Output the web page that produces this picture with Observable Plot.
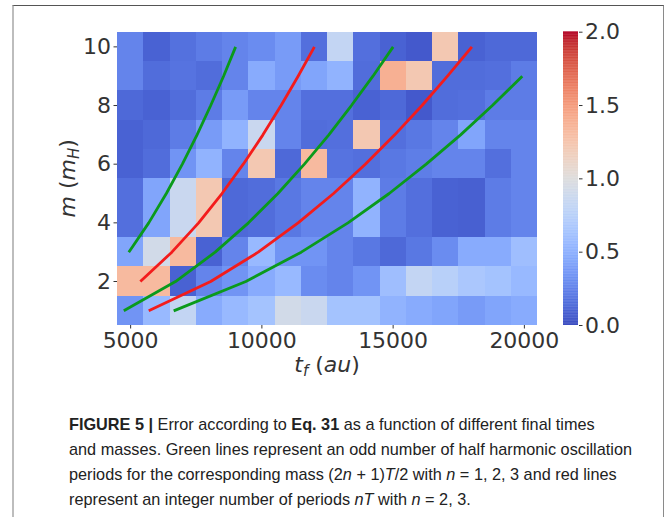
<!DOCTYPE html>
<html>
<head>
<meta charset="utf-8">
<script src="https://cdn.jsdelivr.net/npm/d3@7"></script>
<script src="https://cdn.jsdelivr.net/npm/@observablehq/plot@0.6"></script>
<style>
  html, body { margin: 0; padding: 0; background: #fff; overflow: hidden; }
  #page { position: relative; width: 665px; height: 517px; }
  #frame { position: absolute; left: 12px; top: 5px; width: 649px; height: 600px;
           border-left: 2px solid #bdbdbd; border-top: 1.5px solid #555; border-right: 1px solid #8a8a8a; }
  #chart { position: absolute; left: 0; top: 0; }
  #cbar { position: absolute; left: 540px; top: 0; }
  #caption { position: absolute; left: 69px; top: 412px; font-family: "Liberation Sans Narrow", "Liberation Sans", Arial, sans-serif;
             font-size: 17px; color: #222; }
  #caption .ln { white-space: nowrap; height: 25px; line-height: 25px; transform-origin: 0 0; }
</style>
</head>
<body>
<div id="page">
  <div id="frame"></div>
  <div id="chart"></div>
  <div id="cbar"></div>
  <div id="caption">
    <div class="ln"><b>FIGURE 5</b> <b>|</b> Error according to <b>Eq. 31</b> as a function of different final times</div>
    <div class="ln">and masses. Green lines represent an odd number of half harmonic oscillation</div>
    <div class="ln">periods for the corresponding mass (2<i>n</i> + 1)<i>T</i>/2 with <i>n</i> = 1, 2, 3 and red lines</div>
    <div class="ln">represent an integer number of periods <i>nT</i> with <i>n</i> = 2, 3.</div>
  </div>
</div>
<script>
// ---- data ----
const finalTimes = [5000, 6000, 7000, 8000, 9000, 10000, 11000, 12000, 13000, 14000, 15000, 16000, 17000, 18000, 19000, 20000];
const masses = [10, 9, 8, 7, 6, 5, 4, 3, 2, 1];
const err_m10 = [0.26, 0.10, 0.17, 0.22, 0.26, 0.30, 0.38, 0.16, 0.82, 0.16, 0.10, 0.06, 1.22, 0.10, 0.13, 0.13];
const err_m9  = [0.26, 0.15, 0.18, 0.15, 0.26, 0.47, 0.38, 0.43, 0.52, 0.15, 1.38, 1.22, 0.15, 0.15, 0.16, 0.22];
const err_m8  = [0.13, 0.10, 0.15, 0.22, 0.38, 0.26, 0.26, 0.16, 0.16, 0.10, 0.13, 0.06, 0.15, 0.16, 0.22, 0.22];
const err_m7  = [0.10, 0.13, 0.22, 0.38, 0.52, 0.86, 0.26, 0.15, 0.16, 1.22, 0.16, 0.20, 0.26, 0.43, 0.26, 0.26];
const err_m6  = [0.10, 0.15, 0.34, 0.52, 0.26, 1.22, 0.13, 1.32, 0.18, 0.16, 0.20, 0.23, 0.26, 0.26, 0.16, 0.26];
const err_m5  = [0.16, 0.43, 0.86, 1.22, 0.13, 0.15, 0.20, 0.26, 0.26, 0.52, 0.22, 0.16, 0.10, 0.09, 0.22, 0.26];
const err_m4  = [0.16, 0.43, 0.86, 1.22, 0.13, 0.15, 0.20, 0.26, 0.26, 0.52, 0.22, 0.16, 0.10, 0.09, 0.22, 0.26];
const err_m3  = [0.43, 0.92, 1.32, 0.10, 0.26, 0.56, 0.34, 0.34, 0.26, 0.20, 0.13, 0.20, 0.30, 0.47, 0.47, 0.60];
const err_m2  = [1.32, 1.32, 0.10, 0.26, 0.34, 0.47, 0.56, 0.30, 0.26, 0.34, 0.60, 0.82, 0.75, 0.67, 0.63, 0.56];
const err_m1  = [0.34, 0.56, 0.82, 0.47, 0.56, 0.63, 0.92, 0.86, 0.63, 0.63, 0.52, 0.47, 0.43, 0.38, 0.43, 0.47];
const errRows = [err_m10, err_m9, err_m8, err_m7, err_m6, err_m5, err_m4, err_m3, err_m2, err_m1];

// curves: green = (2n+1)T/2 for n=1,2,3 ; red = nT for n=2,3
const green1_m = [3, 4, 5, 6, 7, 8, 9, 10];
const green1_t = [4930, 5690, 6360, 6970, 7530, 8050, 8540, 9000];
const red1_m   = [2, 3, 4, 5, 6, 7, 8, 9, 10];
const red1_t   = [5370, 6570, 7590, 8480, 9290, 10040, 10730, 11380, 12000];
const green2_m = [1, 2, 3, 4, 5, 6, 7, 8, 9, 10];
const green2_t = [4740, 6710, 8220, 9490, 10610, 11620, 12550, 13410, 14230, 15000];
const red2_m   = [1, 2, 3, 4, 5, 6, 7, 8, 9, 10];
const red2_t   = [5690, 8050, 9860, 11380, 12730, 13940, 15060, 16100, 17070, 18000];
const green3_m = [1, 2, 3, 4, 5, 6, 7, 8, 9];
const green3_t = [6640, 9390, 11500, 13280, 14850, 16260, 17570, 18780, 19920];

const xTicks = [5000, 10000, 15000, 20000];
const yTicks = [2, 4, 6, 8, 10];
const cbarTicks = [0, 0.5, 1.0, 1.5, 2.0];

// matplotlib "coolwarm"
const coolwarmColors = ["#3b4cc0","#445acc","#4d68d7","#5775e1","#6282ea","#6c8ff1","#779af7","#82a6fb","#8db0fe","#98b9ff","#a3c2fe","#aec9fc","#b8d0f9","#c2d5f4","#cbd8ee","#d4dbe6","#dddcdc","#e5d8d1","#ecd3c5","#f1ccb8","#f5c4ac","#f7bba0","#f7b194","#f6a789","#f49a7b","#f08d6f","#ec7f63","#e57058","#dd604c","#d55042","#cb3e38","#c0282f","#b40426"];
const coolwarm = d3.piecewise(d3.interpolateRgb, coolwarmColors);

// ---- build tables ----
const cells = [];
masses.forEach((m, i) => finalTimes.forEach((t, j) => cells.push({t, m, v: errRows[i][j]})));
const toLine = (ms, ts) => ms.map((m, i) => ({m, t: ts[i]}));
const curves = [
  {data: toLine(green1_m, green1_t), color: "#0a9a1c"},
  {data: toLine(red1_m, red1_t), color: "#f31c1c"},
  {data: toLine(green2_m, green2_t), color: "#0a9a1c"},
  {data: toLine(red2_m, red2_t), color: "#f31c1c"},
  {data: toLine(green3_m, green3_t), color: "#0a9a1c"}
];

const W = 665, H = 390, MT = 31.7, MB = 65;
const colorScale = {type: "linear", domain: [0, 2], interpolate: coolwarm};
const baseStyle = {fontFamily: "DejaVu Sans, sans-serif", fontSize: "22px", color: "#333", background: "transparent", overflow: "visible"};

const chart = Plot.plot({
  width: W, height: H,
  marginLeft: 117, marginRight: 128, marginTop: MT, marginBottom: MB,
  style: baseStyle,
  x: {domain: [4500, 20500], ticks: xTicks, tickFormat: d3.format("d"), tickSize: 3.5, tickPadding: 3, label: null},
  y: {domain: [0.5, 10.5], ticks: yTicks, tickSize: 3.5, tickPadding: 3, label: null},
  color: colorScale,
  marks: [
    Plot.rect(cells, {x1: d => d.t - 500, x2: d => d.t + 500, y1: d => d.m - 0.5, y2: d => d.m + 0.5, fill: "v", shapeRendering: "crispEdges"}),
    ...curves.map(c => Plot.line(c.data, {x: "t", y: "m", stroke: c.color, strokeWidth: 2.8, strokeLinejoin: "round", strokeLinecap: "butt"}))
  ]
});
document.getElementById("chart").appendChild(chart);

// axis titles (mathtext-like)
const sx = chart.scale("x"), sy = chart.scale("y");
const svg = d3.select(chart);
const xl = svg.append("text").attr("x", (sx.range[0] + sx.range[1]) / 2).attr("y", H - 18)
  .attr("text-anchor", "middle").attr("fill", "#333").style("font-size", "22px");
xl.append("tspan").attr("font-style", "italic").text("t");
xl.append("tspan").attr("font-style", "italic").attr("font-size", "15px").attr("dy", 4).text("f");
xl.append("tspan").attr("dy", -4).text(" (");
xl.append("tspan").attr("font-style", "italic").text("au");
xl.append("tspan").text(")");

const yc = (sy.range[0] + sy.range[1]) / 2;
const yl = svg.append("text").attr("transform", `translate(75,${yc}) rotate(-90)`)
  .attr("text-anchor", "middle").attr("fill", "#333").style("font-size", "22px");
yl.append("tspan").attr("font-style", "italic").text("m");
yl.append("tspan").text(" (");
yl.append("tspan").attr("font-style", "italic").text("m");
yl.append("tspan").attr("font-style", "italic").attr("font-size", "15px").attr("dy", 4).text("H");
yl.append("tspan").attr("dy", -4).text(")");

// colorbar
const cbarValues = d3.range(0, 2, 0.005);
const cbar = Plot.plot({
  width: 125, height: H,
  marginLeft: 23, marginRight: 87, marginTop: MT, marginBottom: MB,
  style: baseStyle,
  x: {axis: null},
  y: {domain: [0, 2], ticks: cbarTicks, tickFormat: d3.format(".1f"), axis: "right", tickSize: 3.5, tickPadding: 3, label: null},
  color: colorScale,
  marks: [
    Plot.rect(cbarValues, {y1: d => d, y2: d => d + 0.0075, fill: d => d + 0.0025})
  ]
});
document.getElementById("cbar").appendChild(cbar);

// fit caption lines to the original line length
const lines = document.querySelectorAll("#caption .ln");
const probe = lines[1];
probe.style.display = "inline-block";
const w = probe.getBoundingClientRect().width;
probe.style.display = "";
const k = 563 / w;
lines.forEach(l => l.style.transform = `scaleX(${k})`);
</script>
</body>
</html>
